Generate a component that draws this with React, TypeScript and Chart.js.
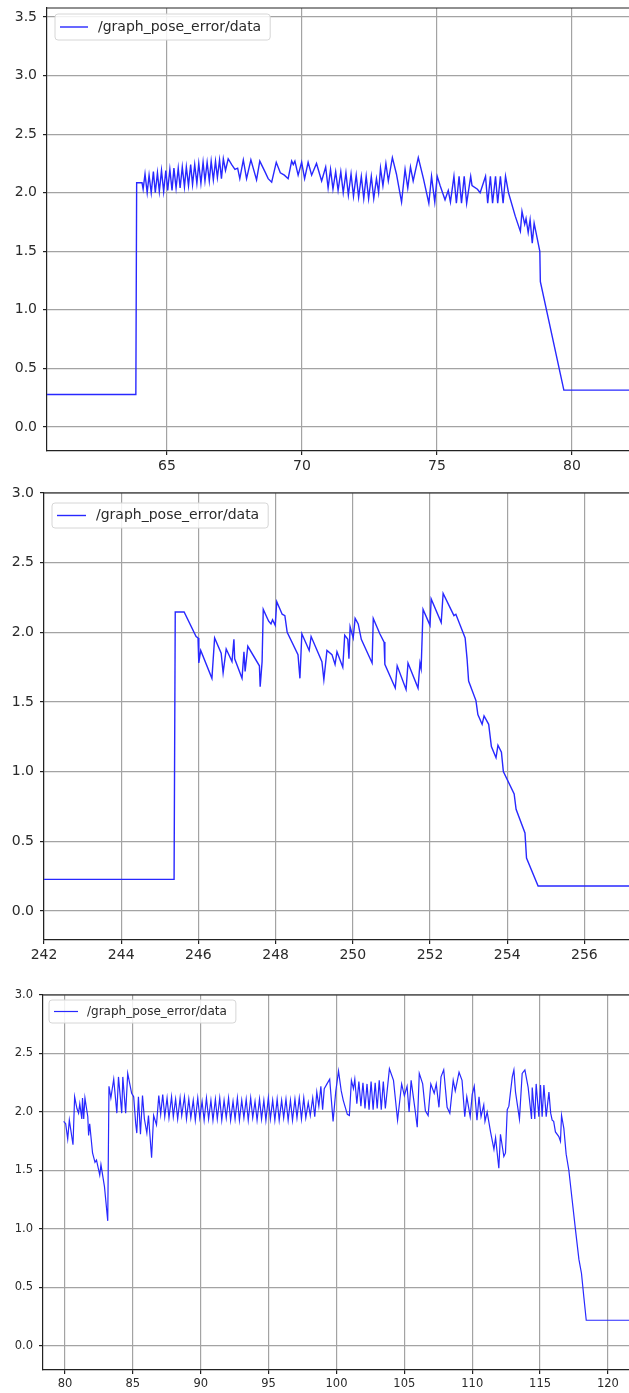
import React, { useEffect, useRef } from "react";
import { Chart, registerables } from "chart.js";

Chart.register(...registerables);

const SERIES_LABEL = "/graph_pose_error/data";

// ---------- Panel 1 (time 60..82 s) ----------
const panel1Time = [
  60.56, 63.85, 63.88, 64.08, 64.12,
  64.19, 64.27, 64.34, 64.42, 64.5, 64.57, 64.65, 64.72, 64.8, 64.88,
  64.96, 65.03, 65.11, 65.19, 65.26, 65.34, 65.42, 65.49, 65.57, 65.65,
  65.72, 65.8, 65.88, 65.95, 66.03, 66.11, 66.18, 66.26, 66.34, 66.41,
  66.49, 66.57, 66.64, 66.72, 66.8, 66.87, 66.95, 67.02, 67.09, 67.17,
  67.27, 67.4, 67.52, 67.62, 67.7, 67.83, 67.95, 68.11, 68.32, 68.44,
  68.63, 68.75, 68.88, 69.05, 69.2, 69.35, 69.49, 69.62, 69.68, 69.74,
  69.86, 69.99, 70.1, 70.23, 70.36, 70.54, 70.73, 70.88, 70.97, 71.06,
  71.15, 71.25, 71.34, 71.44, 71.53, 71.63, 71.72, 71.82, 71.91, 72.01,
  72.1, 72.2, 72.29, 72.38, 72.47, 72.57, 72.66, 72.76, 72.84, 72.91,
  73.0, 73.11, 73.2, 73.35, 73.5, 73.69, 73.82, 73.92, 74.02, 74.12,
  74.31, 74.5, 74.7, 74.8, 74.92, 75.01, 75.12, 75.3, 75.42, 75.5,
  75.63, 75.72, 75.82, 75.91, 76.01, 76.1, 76.25, 76.3, 76.5, 76.6,
  76.8, 76.88, 76.98, 77.06, 77.17, 77.25, 77.35, 77.45, 77.54, 77.65,
  77.9, 78.09, 78.15, 78.25, 78.3, 78.38, 78.45, 78.53, 78.6, 78.81,
  78.83, 79.7, 82.52,
];
const panel1Error = [
  0.277, 0.277, 2.085, 2.085, 2.03,
  2.16, 2.0, 2.15, 2.0, 2.18, 2.0, 2.17, 2.01, 2.19, 2.01,
  2.19, 2.02, 2.2, 2.02, 2.21, 2.04, 2.21, 2.04, 2.22, 2.05,
  2.22, 2.06, 2.24, 2.07, 2.24, 2.08, 2.25, 2.08, 2.26, 2.1,
  2.26, 2.1, 2.27, 2.11, 2.27, 2.13, 2.28, 2.12, 2.29, 2.19,
  2.29, 2.24, 2.2, 2.21, 2.12, 2.28, 2.12, 2.28, 2.11, 2.27,
  2.18, 2.12, 2.09, 2.26, 2.17, 2.15, 2.12, 2.27, 2.24, 2.27,
  2.15, 2.26, 2.12, 2.26, 2.15, 2.25, 2.1, 2.22, 2.04, 2.2,
  2.03, 2.18, 2.02, 2.18, 2.0, 2.17, 1.98, 2.16, 1.97, 2.15,
  1.96, 2.14, 1.95, 2.14, 1.95, 2.14, 1.95, 2.12, 2.0, 2.21,
  2.06, 2.25, 2.1, 2.3, 2.16, 1.92, 2.2, 2.04, 2.22, 2.1,
  2.3, 2.12, 1.91, 2.14, 1.92, 2.14, 2.06, 1.94, 2.02, 1.92,
  2.14, 1.91, 2.14, 1.91, 2.14, 1.91, 2.14, 2.06, 2.03, 2.0,
  2.14, 1.91, 2.14, 1.91, 2.14, 1.91, 2.14, 1.91, 2.14, 2.0,
  1.8, 1.67, 1.84, 1.73, 1.78, 1.66, 1.77, 1.57, 1.74, 1.5,
  1.24, 0.315, 0.315,
];

// ---------- Panel 2 (time 242..257 s) ----------
const panel2Time = [
  242.0, 245.37, 245.4, 245.63, 245.94, 245.99, 246.01, 246.06, 246.35, 246.42,
  246.59, 246.64, 246.72, 246.87, 246.92, 246.94, 247.13, 247.18, 247.21, 247.28,
  247.58, 247.6, 247.65, 247.68, 247.82, 247.88, 247.92, 247.99, 248.03, 248.17,
  248.24, 248.3, 248.58, 248.63, 248.68, 248.87, 248.92, 249.2, 249.25, 249.33,
  249.46, 249.54, 249.59, 249.74, 249.79, 249.87, 249.9, 249.93, 250.01, 250.06,
  250.14, 250.22, 250.5, 250.53, 250.7, 250.81, 250.83, 251.1, 251.15, 251.38,
  251.43, 251.69, 251.74, 251.77, 251.82, 252.0, 252.03, 252.29, 252.34, 252.62,
  252.67, 252.91, 252.96, 253.0, 253.19, 253.24, 253.35, 253.4, 253.52, 253.59,
  253.71, 253.76, 253.85, 253.9, 254.18, 254.23, 254.46, 254.5, 254.8, 257.44,
];
const panel2Error = [
  0.227, 0.227, 2.146, 2.146, 1.97, 1.96, 1.78, 1.87, 1.67, 1.96,
  1.85, 1.71, 1.88, 1.79, 1.95, 1.81, 1.67, 1.86, 1.72, 1.9,
  1.76, 1.61, 1.79, 2.165, 2.08, 2.06, 2.09, 2.05, 2.22, 2.13,
  2.12, 2.0, 1.84, 1.67, 1.99, 1.87, 1.97, 1.79, 1.66, 1.87,
  1.84, 1.77, 1.86, 1.75, 1.98, 1.95, 1.81, 2.04, 1.96, 2.1,
  2.06, 1.95, 1.78, 2.1, 1.99, 1.93, 1.77, 1.6, 1.76, 1.59,
  1.78, 1.6, 1.78, 1.74, 2.165, 2.05, 2.24, 2.07, 2.28, 2.12,
  2.13, 1.96, 1.81, 1.65, 1.51, 1.41, 1.34, 1.4, 1.34, 1.18,
  1.1, 1.19, 1.14, 1.0, 0.84, 0.73, 0.56, 0.38, 0.18, 0.18,
];

// ---------- Panel 3 (time 79..122 s) ----------
const panel3Time = [
  79.9, 80.05, 80.2, 80.32, 80.59, 80.71, 80.88, 81.0, 81.09, 81.24,
  81.29, 81.38, 81.47, 81.68, 81.74, 81.82, 82.03, 82.21, 82.32, 82.56,
  82.65, 82.91, 83.15, 83.24, 83.38, 83.59, 83.82, 83.94, 84.18, 84.26,
  84.47, 84.62, 84.91, 85.06, 85.21, 85.29, 85.41, 85.56, 85.71, 85.85,
  86.03, 86.15, 86.38, 86.53, 86.74, 86.91,
  87.05, 87.2, 87.35, 87.52, 87.66, 87.85, 87.98, 88.15, 88.3, 88.48,
  88.6, 88.8, 88.95, 89.12, 89.27, 89.45, 89.6, 89.78, 89.93, 90.1,
  90.25, 90.42, 90.58, 90.75, 90.9, 91.08, 91.22, 91.4, 91.55, 91.72,
  91.88, 92.05, 92.2, 92.38, 92.53, 92.7, 92.85, 93.02, 93.18, 93.35,
  93.5, 93.68, 93.83, 94.0, 94.15, 94.33, 94.48, 94.65, 94.8, 94.98,
  95.13, 95.3, 95.46, 95.63, 95.78, 95.96, 96.11, 96.28, 96.44, 96.61,
  96.76, 96.94, 97.09, 97.26, 97.42, 97.59, 97.74, 97.92, 98.07, 98.25,
  98.4, 98.55, 98.7, 98.85, 98.98, 99.1, 99.3, 99.5, 99.75, 99.95,
  100.15, 100.35, 100.5, 100.8, 100.95, 101.1, 101.25, 101.35, 101.5, 101.65,
  101.8, 101.95, 102.1, 102.25, 102.4, 102.55, 102.7, 102.85, 103.0, 103.15,
  103.3, 103.45, 103.6, 103.75, 103.9, 104.2, 104.5, 104.8, 105.0, 105.2,
  105.35, 105.5, 105.8, 105.95, 106.1, 106.35, 106.55, 106.75, 106.95, 107.2,
  107.35, 107.55, 107.7, 107.9, 108.15, 108.35, 108.6, 108.75, 109.03, 109.25,
  109.45, 109.6, 109.85, 110.0, 110.15, 110.35, 110.5, 110.65, 110.85, 110.94,
  111.1, 111.35, 111.6, 111.72, 111.96, 112.08, 112.33, 112.45, 112.58, 112.7,
  112.95, 113.07, 113.19, 113.48, 113.68, 113.88, 114.12, 114.37, 114.42, 114.61,
  114.71, 114.91, 115.03, 115.15, 115.28, 115.45, 115.65, 115.78, 115.89, 116.0,
  116.13, 116.38, 116.5, 116.58, 116.75, 116.92, 117.12, 117.36, 117.61, 117.86,
  118.05, 118.23, 118.4, 122.36,
];
const panel3Error = [
  1.92, 1.9, 1.77, 1.93, 1.72, 2.13, 2.03, 1.99, 2.07, 1.94,
  2.12, 1.94, 2.12, 1.96, 1.8, 1.9, 1.65, 1.57, 1.59, 1.46,
  1.55, 1.36, 1.07, 2.22, 2.12, 2.28, 1.99, 2.3, 1.99, 2.3,
  1.99, 2.33, 2.16, 2.13, 1.9, 1.82, 2.13, 1.81, 2.14, 1.94,
  1.82, 1.97, 1.61, 1.97, 1.89, 2.14,
  1.98, 2.15, 1.96, 2.12, 1.95, 2.13, 1.96, 2.11, 1.94, 2.12,
  1.97, 2.13, 1.94, 2.11, 1.95, 2.1, 1.93, 2.12, 1.95, 2.09,
  1.93, 2.12, 1.94, 2.1, 1.93, 2.11, 1.94, 2.12, 1.93, 2.1,
  1.95, 2.12, 1.93, 2.09, 1.94, 2.12, 1.93, 2.1, 1.95, 2.11,
  1.93, 2.12, 1.95, 2.09, 1.93, 2.11, 1.94, 2.1, 1.93, 2.12,
  1.94, 2.1, 1.93, 2.11, 1.93, 2.1, 1.95, 2.11, 1.93, 2.1,
  1.93, 2.11, 1.95, 2.12, 1.94, 2.12, 1.95, 2.08, 1.97, 2.12,
  1.96, 2.17, 2.05, 2.22, 2.02, 2.2, 2.24, 2.28, 1.92, 2.18,
  2.35, 2.18, 2.1, 1.98, 1.97, 2.27, 2.2, 2.28, 2.07, 2.26,
  2.05, 2.25, 2.03, 2.24, 2.02, 2.26, 2.02, 2.25, 2.03, 2.27,
  2.02, 2.26, 2.03, 2.2, 2.37, 2.27, 1.93, 2.24, 2.14, 2.22,
  2.0, 2.27, 2.01, 1.87, 2.33, 2.24, 2.01, 1.97, 2.24, 2.16,
  2.24, 2.04, 2.3, 2.36, 2.04, 1.99, 2.27, 2.18, 2.34, 2.27,
  1.96, 2.13, 1.96, 2.15, 2.22, 1.93, 2.13, 1.96, 2.06, 1.92,
  2.0, 1.83, 1.68, 1.78, 1.52, 1.81, 1.62, 1.65, 2.02, 2.05,
  2.3, 2.36, 2.17, 1.94, 2.33, 2.36, 2.21, 1.94, 2.21, 1.94,
  2.24, 1.96, 2.23, 1.96, 2.23, 1.96, 2.17, 1.99, 1.93, 1.92,
  1.83, 1.79, 1.75, 1.97, 1.86, 1.64, 1.5, 1.25, 0.99, 0.74,
  0.62, 0.41, 0.22, 0.22,
];

type PanelConfig = {
  time: number[];
  error: number[];
  areaTop: number;
  areaBottom: number;
  areaLeft: number;
  xAxisHeight: number;
  xMin: number;
  xMax: number;
  xStep: number;
  yMin: number;
  yMax: number;
  tickFont: number;
  legendFont: number;
  lineWidth: number;
  legend: { dx: number; dy: number; h: number; l0: number; l1: number; tx: number };
};

const CANVAS_WIDTH = 640;
const TOP_PAD = 16;

const panels: PanelConfig[] = [
  {
    time: panel1Time, error: panel1Error,
    areaTop: 8, areaBottom: 451, areaLeft: 47, xAxisHeight: 29,
    xMin: 60.56, xMax: 82.52, xStep: 5, yMin: -0.205, yMax: 3.577,
    tickFont: 14, legendFont: 14, lineWidth: 1.4,
    legend: { dx: 8, dy: 6, h: 26, l0: 5, l1: 33, tx: 43 },
  },
  {
    time: panel2Time, error: panel2Error,
    areaTop: 493, areaBottom: 940, areaLeft: 44, xAxisHeight: 30,
    xMin: 242, xMax: 257.44, xStep: 2, yMin: -0.208, yMax: 3.0,
    tickFont: 14, legendFont: 14, lineWidth: 1.4,
    legend: { dx: 8, dy: 10, h: 25, l0: 5, l1: 34, tx: 44 },
  },
  {
    time: panel3Time, error: panel3Error,
    areaTop: 995, areaBottom: 1370, areaLeft: 43, xAxisHeight: 23,
    xMin: 78.38, xMax: 122.36, xStep: 5, yMin: -0.205, yMax: 3.0,
    tickFont: 11.5, legendFont: 12, lineWidth: 1.2,
    legend: { dx: 6, dy: 5, h: 23, l0: 5, l1: 29, tx: 38 },
  },
];

const LINE_COLOR = "rgb(40,40,255)";
const GRID_COLOR = "#a3a3a3";
const AXIS_COLOR = "#222222";
const TEXT_COLOR = "#2a2a2a";
const FONT_FAMILY = '"DejaVu Sans", sans-serif';

function Panel({ cfg }: { cfg: PanelConfig }) {
  const ref = useRef<HTMLCanvasElement | null>(null);
  const canvasTop = cfg.areaTop - TOP_PAD;
  const canvasHeight = cfg.areaBottom + cfg.xAxisHeight - canvasTop;

  useEffect(() => {
    const canvas = ref.current;
    if (!canvas) return;

    const framePlugin = {
      id: "frame",
      afterDatasetsDraw(chart: any) {
        const { ctx, chartArea } = chart;
        ctx.save();
        ctx.strokeStyle = AXIS_COLOR;
        ctx.lineWidth = 1.2;
        ctx.beginPath();
        ctx.moveTo(chartArea.left, chartArea.top);
        ctx.lineTo(chartArea.right, chartArea.top);
        ctx.lineTo(chartArea.right, chartArea.bottom);
        ctx.stroke();
        ctx.restore();
      },
    };

    const legendPlugin = {
      id: "boxLegend",
      afterDraw(chart: any) {
        const { ctx, chartArea } = chart;
        const L = cfg.legend;
        const bx = chartArea.left + L.dx;
        const by = chartArea.top + L.dy;
        ctx.save();
        ctx.font = `${cfg.legendFont}px ${FONT_FAMILY}`;
        const tw = ctx.measureText(SERIES_LABEL).width;
        const bw = L.tx + tw + 9;
        const r = 3;
        ctx.beginPath();
        ctx.moveTo(bx + r, by);
        ctx.lineTo(bx + bw - r, by);
        ctx.arcTo(bx + bw, by, bx + bw, by + r, r);
        ctx.lineTo(bx + bw, by + L.h - r);
        ctx.arcTo(bx + bw, by + L.h, bx + bw - r, by + L.h, r);
        ctx.lineTo(bx + r, by + L.h);
        ctx.arcTo(bx, by + L.h, bx, by + L.h - r, r);
        ctx.lineTo(bx, by + r);
        ctx.arcTo(bx, by, bx + r, by, r);
        ctx.closePath();
        ctx.fillStyle = "rgba(255,255,255,0.85)";
        ctx.fill();
        ctx.strokeStyle = "#d6d6d6";
        ctx.lineWidth = 1;
        ctx.stroke();
        const cy = by + L.h / 2;
        ctx.strokeStyle = LINE_COLOR;
        ctx.lineWidth = cfg.lineWidth;
        ctx.beginPath();
        ctx.moveTo(bx + L.l0, cy);
        ctx.lineTo(bx + L.l1, cy);
        ctx.stroke();
        ctx.fillStyle = TEXT_COLOR;
        ctx.textBaseline = "middle";
        ctx.textAlign = "left";
        ctx.fillText(SERIES_LABEL, bx + L.tx, cy);
        ctx.restore();
      },
    };

    const points = cfg.time.map((t, i) => ({ x: t, y: cfg.error[i] }));

    const chart = new Chart(canvas, {
      type: "line",
      data: {
        datasets: [
          {
            label: SERIES_LABEL,
            data: points,
            borderColor: LINE_COLOR,
            borderWidth: cfg.lineWidth,
            pointRadius: 0,
            tension: 0,
            fill: false,
          },
        ],
      },
      options: {
        animation: false,
        responsive: false,
        events: [],
        layout: { padding: { top: TOP_PAD, left: 0, right: 0, bottom: 0 } },
        plugins: { legend: { display: false }, tooltip: { enabled: false } },
        scales: {
          x: {
            type: "linear",
            min: cfg.xMin,
            max: cfg.xMax,
            afterFit: (s: any) => {
              s.height = cfg.xAxisHeight;
            },
            ticks: {
              stepSize: cfg.xStep,
              includeBounds: false,
              autoSkip: false,
              maxRotation: 0,
              padding: 3,
              color: TEXT_COLOR,
              font: { size: cfg.tickFont, family: FONT_FAMILY },
              callback: (v: any) => String(Math.round(Number(v))),
            },
            grid: {
              color: GRID_COLOR,
              lineWidth: 1.2,
              drawTicks: true,
              tickLength: 4,
              tickColor: AXIS_COLOR,
            },
            border: { color: AXIS_COLOR, width: 1.2 },
          },
          y: {
            type: "linear",
            min: cfg.yMin,
            max: cfg.yMax,
            afterFit: (s: any) => {
              s.width = cfg.areaLeft;
            },
            ticks: {
              stepSize: 0.5,
              includeBounds: false,
              padding: 6,
              color: TEXT_COLOR,
              font: { size: cfg.tickFont, family: FONT_FAMILY },
              callback: (v: any) => Number(v).toFixed(1),
            },
            grid: {
              color: GRID_COLOR,
              lineWidth: 1.2,
              drawTicks: true,
              tickLength: 4,
              tickColor: AXIS_COLOR,
            },
            border: { color: AXIS_COLOR, width: 1.2 },
          },
        },
      },
      plugins: [framePlugin, legendPlugin],
    } as any);

    return () => {
      chart.destroy();
    };
  }, [cfg]);

  return (
    <canvas
      ref={ref}
      width={CANVAS_WIDTH}
      height={canvasHeight}
      style={{
        position: "absolute",
        left: 0,
        top: canvasTop,
        width: CANVAS_WIDTH,
        height: canvasHeight,
      }}
    />
  );
}

export default function App() {
  return (
    <div
      style={{
        position: "absolute",
        left: 0,
        top: 0,
        width: 629,
        height: 1393,
        overflow: "hidden",
        background: "#ffffff",
      }}
    >
      {panels.map((p, i) => (
        <Panel key={i} cfg={p} />
      ))}
    </div>
  );
}
